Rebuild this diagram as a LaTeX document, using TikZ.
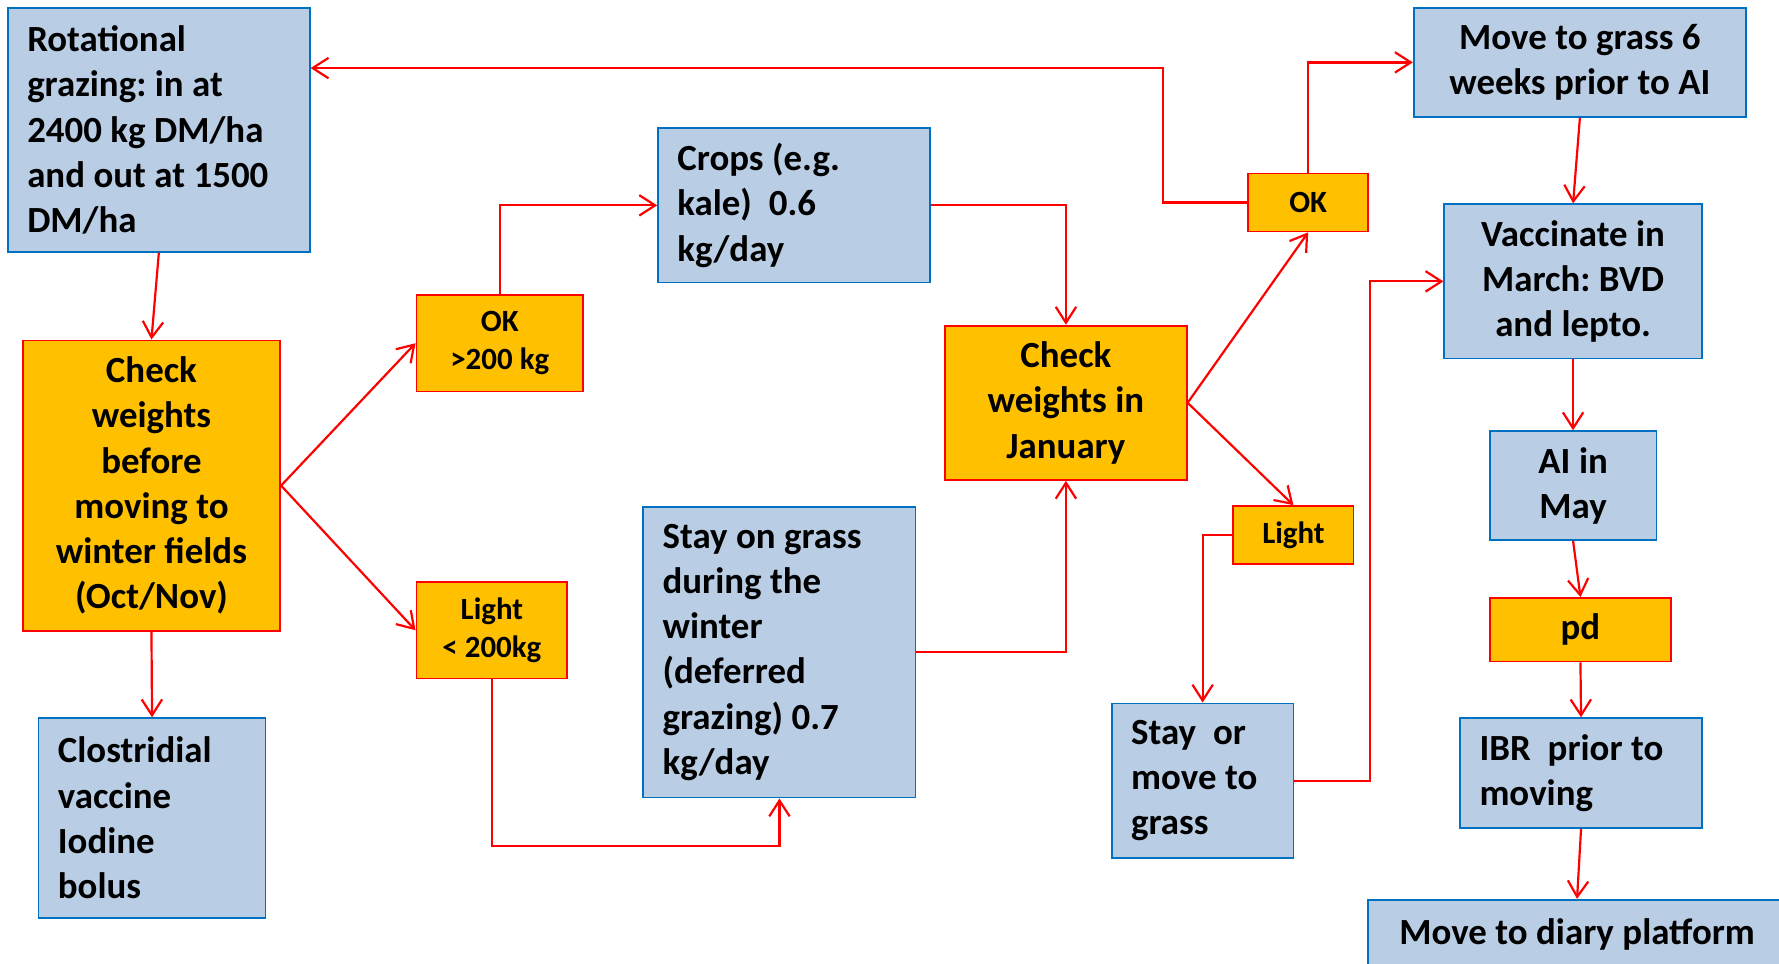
\documentclass[tikz,border=0pt]{standalone}
\usepackage{fontspec}
\setmainfont{Carlito}
\frenchspacing
\usetikzlibrary{arrows.meta}
\definecolor{boxblue}{HTML}{B9CDE5}
\definecolor{lineblue}{HTML}{0070C0}
\definecolor{boxorange}{HTML}{FFC000}

\begin{document}
\begin{tikzpicture}
  [x=0.02cm,y=-0.02cm,
   every node/.style={rectangle,inner xsep=0.34cm,inner ysep=0pt,
     font=\bfseries\fontsize{18.5}{22.7}\selectfont,
     execute at begin node={\spaceskip=0.23em\relax}},
   blu/.style={draw=lineblue,fill=boxblue,line width=0.9pt},
   yel/.style={draw=red,fill=boxorange,line width=0.9pt},
   small/.style={font=\bfseries\fontsize{15.5}{19}\selectfont},
   arr/.style={red,line width=1.1pt,-{Straight Barb[length=2.8mm,width=3.6mm]}}]
  \useasboundingbox (0,0) rectangle (1568,849);
  \clip (0,0) rectangle (1568,849);

  % left column
  \node[blu,align=left,text width=4.64cm,minimum height=4.30cm] (rot) at (140,114.5)
    {Rotational\\grazing: in at\\2400 kg DM/ha\\and out at 1500\\DM/ha};
  \node[yel,align=center,text width=3.86cm,minimum height=5.12cm] (chk) at (133.5,428)
    {Check\\weights\\before\\moving to\\winter fields\\(Oct/Nov)};
  \node[blu,align=left,text width=3.32cm,minimum height=3.52cm] (clos) at (134,721)
    {Clostridial\\vaccine\\Iodine\\bolus};
  \node[yel,small,align=center,text width=2.26cm,minimum height=1.70cm] (ok1) at (440.5,302.5)
    {OK\\>200 kg};
  \node[yel,small,align=center,text width=1.98cm,minimum height=1.70cm] (lt1) at (433.5,555.5)
    {Light\\< 200kg};

  % middle
  \node[blu,align=left,text width=4.12cm,minimum height=2.72cm] (crops) at (700,181)
    {Crops (e.g.\\kale)~ 0.6\\kg/day};
  \node[blu,align=left,text width=4.12cm,minimum height=5.12cm] (stay) at (687,575)
    {Stay on grass\\during the\\winter\\(deferred\\grazing) 0.7\\kg/day};
  \node[yel,align=center,text width=3.58cm,minimum height=2.72cm] (chkj) at (939.5,355)
    {Check\\weights in\\January};
  \node[yel,small,align=center,text width=1.44cm,minimum height=1.02cm] (ok2) at (1153,178.5) {OK};
  \node[yel,small,align=center,text width=1.44cm,minimum height=1.02cm] (lt2) at (1140,471.5) {Light};
  \node[blu,align=left,text width=2.52cm,minimum height=2.72cm] (som) at (1060,688)
    {Stay~ or\\move to\\grass};

  % right column
  \node[blu,align=center,text width=5.18cm,minimum height=1.92cm] (mg6) at (1392.5,55)
    {Move to grass 6\\weeks prior to AI};
  \node[blu,align=center,text width=3.86cm,minimum height=2.72cm] (vacc) at (1386.5,248)
    {Vaccinate in\\March: BVD\\and lepto.};
  \node[blu,align=center,text width=2.26cm,minimum height=1.92cm] (ai) at (1386.5,428)
    {AI in\\May};
  \node[yel,align=center,text width=2.52cm,minimum height=1.12cm] (pd) at (1393,555) {pd};
  \node[blu,align=left,text width=3.58cm,minimum height=1.94cm] (ibr) at (1393.5,681.5)
    {IBR~ prior to\\moving};
  \node[blu,align=center,text width=6.68cm,minimum height=1.24cm] (diary) at (1390,824)
    {Move to diary platform};

  \draw[arr] (rot.south) -- (chk.north);
  \draw[arr] (chk.east) -- (ok1.west);
  \draw[arr] (chk.east) -- (lt1.west);
  \draw[arr] (chk.south) -- (clos.north);
  \draw[arr] (ok1.north) |- (crops.west);
  \draw[arr] (lt1.south) -- ++(0,147) -| (stay.south);
  \draw[arr] (crops.east) -| (chkj.north);
  \draw[arr] (stay.east) -| (chkj.south);
  \draw[arr] (chkj.east) -- (ok2.south);
  \draw[arr] (chkj.east) -- (lt2.north);
  \draw[arr] (ok2.north) |- (mg6.west);
  \coordinate (back) at (1025,60);
  \draw[arr] (ok2.west) -| (back) -- (back -| rot.east);
  \draw[arr] (lt2.west) -| (som.north);
  \draw[arr] (som.east) -- ++(67,0) |- (vacc.west);
  \draw[arr] (mg6.south) -- (vacc.north);
  \draw[arr] (vacc.south) -- (ai.north);
  \draw[arr] (ai.south) -- (pd.north);
  \draw[arr] (pd.south) -- (ibr.north);
  \draw[arr] (ibr.south) -- (diary.north);
\end{tikzpicture}
\end{document}
